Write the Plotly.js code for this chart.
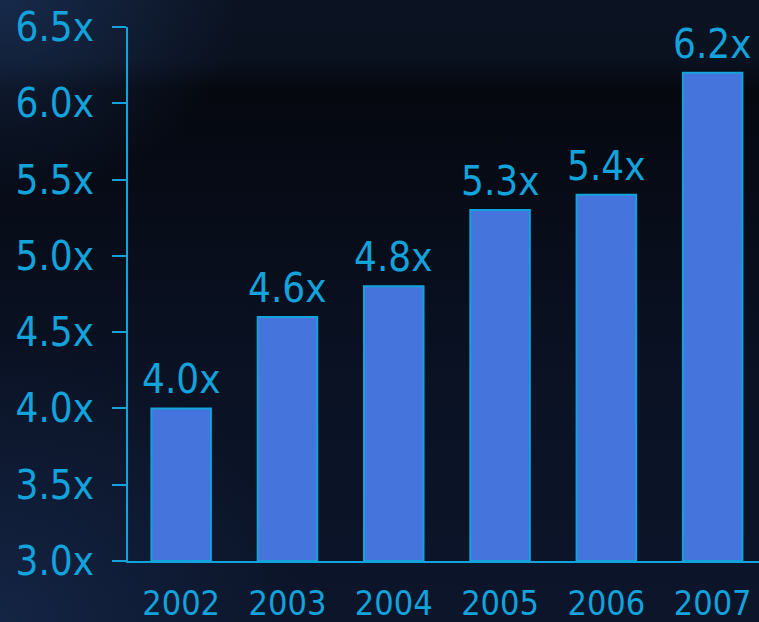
<!DOCTYPE html>
<html>
<head>
<meta charset="utf-8">
<script src="https://cdn.plot.ly/plotly-3.0.1.min.js"></script>
<style>
  html, body { margin: 0; padding: 0; width: 759px; height: 622px; overflow: hidden; }
  body {
    background:
      radial-gradient(ellipse 240px 200px at 0px 0px, rgba(35,65,115,0.5), rgba(35,65,115,0) 100%),
      radial-gradient(ellipse 300px 280px at 0px 622px, rgba(30,55,100,0.45), rgba(30,55,100,0) 100%),
      linear-gradient(to bottom, #0b1322 0px, #0a111f 60px, #05080f 90px, #060a14 150px, #0a1224 380px, #0c152a 622px);
  }
  #chart { width: 759px; height: 622px; }
</style>
</head>
<body>
<div id="chart"></div>
<script>
const years = ['2002', '2003', '2004', '2005', '2006', '2007'];
const multiples = [4.0, 4.6, 4.8, 5.3, 5.4, 6.2];
const labels = ['4.0x', '4.6x', '4.8x', '5.3x', '5.4x', '6.2x'];
const yTickVals = [3.0, 3.5, 4.0, 4.5, 5.0, 5.5, 6.0, 6.5];
const yTickText = ['3.0x', '3.5x', '4.0x', '4.5x', '5.0x', '5.5x', '6.0x', '6.5x'];

const cyan = '#12a2dc';
const font = 'DejaVu Sans Condensed, DejaVu Sans, sans-serif';
const axisBase = 3.0;

const trace = {
  type: 'bar',
  x: years,
  y: multiples.map(v => v - axisBase),
  base: axisBase,
  width: 0.56,
  marker: { color: '#4474dc', line: { color: cyan, width: 2 } },
  hoverinfo: 'none'
};

const annotations = years.map((yr, i) => ({
  x: i, y: multiples[i], xref: 'x', yref: 'y',
  text: labels[i], showarrow: false,
  yanchor: 'bottom', yshift: 4,
  font: { family: font, size: 40, color: cyan }
}));

const layout = {
  width: 759, height: 622,
  margin: { l: 128, r: 0, t: 27, b: 61, pad: 0 },
  paper_bgcolor: 'rgba(0,0,0,0)',
  plot_bgcolor: 'rgba(0,0,0,0)',
  showlegend: false,
  xaxis: {
    type: 'category',
    range: [-0.5, 5.436],
    showline: true, linecolor: cyan, linewidth: 2,
    ticks: '', showgrid: false, zeroline: false,
    tickfont: { family: font, size: 34, color: cyan },
    ticklabelstandoff: 11
  },
  yaxis: {
    range: [3.0, 6.5],
    tickvals: yTickVals, ticktext: yTickText,
    showline: true, linecolor: cyan, linewidth: 2,
    ticks: 'outside', ticklen: 14, tickwidth: 2, tickcolor: cyan,
    showgrid: false, zeroline: false,
    tickfont: { family: font, size: 40, color: cyan },
    ticklabelstandoff: 10
  },
  annotations: annotations
};

Plotly.newPlot('chart', [trace], layout, { displayModeBar: false, staticPlot: true });
</script>
</body>
</html>
